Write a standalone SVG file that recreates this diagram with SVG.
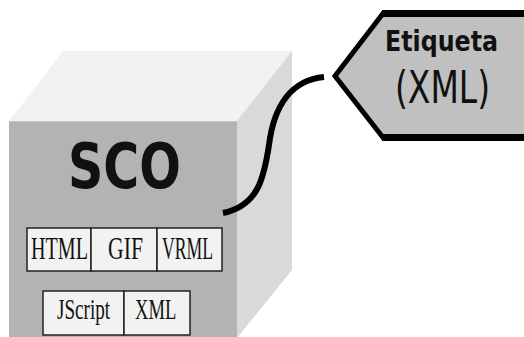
<svg xmlns="http://www.w3.org/2000/svg" width="524" height="337" viewBox="0 0 524 337">
<style>
.cell{fill:#f2f2f2;stroke:#222;stroke-width:1.5}
.ct{font-family:"Liberation Serif","Times New Roman",serif;fill:#111}
.sans{font-family:"DejaVu Sans",Verdana,sans-serif;fill:#111}
</style>
<rect width="524" height="337" fill="#ffffff"/>
<g id="sco">
  <polygon points="9,121 63,51 292,51 237,121" fill="#f2f2f2"/>
  <polygon points="237,121 292,51 292,270 237,338" fill="#d9d9d9"/>
  <rect x="9" y="121" width="228" height="217" fill="#b3b3b3"/>
  <line x1="9" y1="121.5" x2="237" y2="121.5" stroke="#c8c8c8" stroke-width="1"/>
  <text class="sans" x="68" y="188" font-size="63" font-weight="bold" textLength="113" lengthAdjust="spacingAndGlyphs">SCO</text>
  <g id="row1">
    <rect class="cell" x="27" y="228" width="64" height="43"/>
    <rect class="cell" x="91" y="228" width="66" height="43"/>
    <rect class="cell" x="157" y="228" width="65" height="43"/>
    <text class="ct" font-size="31" transform="translate(31,259) scale(0.65,1)">HTML</text>
    <text class="ct" font-size="31" transform="translate(108,259) scale(0.7,1)">GIF</text>
    <text class="ct" font-size="31" transform="translate(162,259) scale(0.57,1)">VRML</text>
  </g>
  <g id="row2">
    <rect class="cell" x="43" y="291" width="81" height="44"/>
    <rect class="cell" x="124" y="291" width="66" height="44"/>
    <text class="ct" font-size="29" transform="translate(57,319) scale(0.66,1)">JScript</text>
    <text class="ct" font-size="29" transform="translate(135,319) scale(0.64,1)">XML</text>
  </g>
</g>
<g id="etiqueta">
  <polygon points="383,13.5 530,13.5 530,137.5 383,137.5 335,76" fill="#c0c0c0" stroke="#000" stroke-width="5" stroke-linejoin="miter"/>
  <line x1="382" y1="13.5" x2="530" y2="13.5" stroke="#000" stroke-width="7"/>
  <line x1="382" y1="137.5" x2="530" y2="137.5" stroke="#000" stroke-width="7"/>
  <text class="sans" x="385" y="51" font-size="29" font-weight="bold" textLength="113" lengthAdjust="spacingAndGlyphs">Etiqueta</text>
  <text class="sans" x="395" y="103" font-size="45" textLength="95" lengthAdjust="spacingAndGlyphs">(XML)</text>
</g>
<g id="connectors">
  <path d="M223,213 C258,206 264,178 269,145 C274,105 292,80 324,77" fill="none" stroke="#000" stroke-width="6" stroke-linecap="butt"/>
</g>
</svg>
